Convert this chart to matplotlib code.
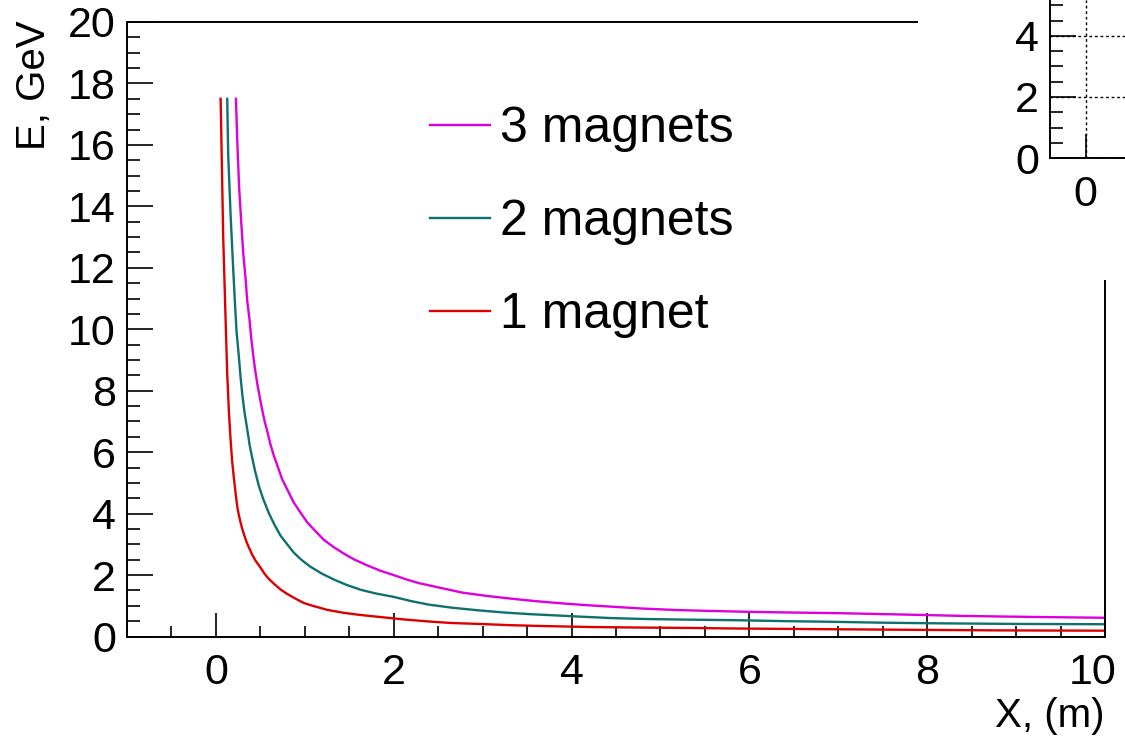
import matplotlib
matplotlib.use("Agg")
import matplotlib.pyplot as plt
from matplotlib.ticker import MultipleLocator, FixedFormatter, FixedLocator

plt.rcParams['font.family'] = ['Liberation Sans', 'DejaVu Sans']

# energy vs. position on the detector, one curve per magnet configuration
x_1mag = [0.053, 0.082, 0.109, 0.127, 0.146, 0.165, 0.183, 0.202, 0.221, 0.240,
          0.258, 0.28, 0.30, 0.325, 0.35, 0.38, 0.41, 0.45, 0.50, 0.55, 0.60,
          0.66, 0.727, 0.80, 0.89, 0.989, 1.1, 1.25, 1.44, 1.63, 1.83, 2.1,
          2.39, 2.65, 2.96, 3.3, 3.70, 4.2, 4.83, 5.3, 5.88, 6.8, 7.75, 8.8, 10.0]
e_1mag = [17.5, 13.0, 10.3, 8.57, 7.32, 6.40, 5.69, 5.16, 4.67, 4.23,
          3.95, 3.68, 3.47, 3.24, 3.04, 2.84, 2.65, 2.45, 2.25, 2.03, 1.86,
          1.70, 1.53, 1.39, 1.24, 1.09, 0.99, 0.87, 0.77, 0.70, 0.64, 0.56,
          0.49, 0.44, 0.41, 0.37, 0.34, 0.31, 0.29, 0.28, 0.26, 0.24, 0.22, 0.20, 0.19]

x_2mag = [0.127, 0.138, 0.165, 0.191, 0.213, 0.232, 0.258, 0.277, 0.296, 0.32,
          0.352, 0.38, 0.408, 0.44, 0.483, 0.53, 0.596, 0.66, 0.727, 0.80, 0.876,
          0.96, 1.064, 1.19, 1.33, 1.47, 1.63, 1.8, 2.0, 2.2, 2.39, 2.65, 2.96,
          3.25, 3.52, 3.8, 4.08, 4.45, 4.83, 5.3, 5.88, 6.4, 6.92, 7.5, 8.12, 9.0, 10.0]
e_2mag = [17.5, 15.68, 13.73, 12.16, 10.91, 9.93, 9.11, 8.45, 7.90, 7.33,
          6.75, 6.22, 5.82, 5.39, 4.90, 4.49, 4.01, 3.63, 3.28, 3.01, 2.73,
          2.50, 2.27, 2.05, 1.85, 1.68, 1.52, 1.40, 1.29, 1.15, 1.04, 0.94, 0.85,
          0.78, 0.73, 0.69, 0.65, 0.60, 0.57, 0.55, 0.53, 0.50, 0.48, 0.45, 0.43, 0.41, 0.40]

x_3mag = [0.225, 0.243, 0.262, 0.285, 0.307, 0.334, 0.352, 0.379, 0.397, 0.419,
          0.438, 0.464, 0.49, 0.52, 0.55, 0.576, 0.61, 0.652, 0.70, 0.745, 0.80,
          0.876, 0.95, 1.026, 1.11, 1.213, 1.32, 1.438, 1.56, 1.70, 1.85, 2.0,
          2.14, 2.28, 2.5, 2.77, 3.05, 3.33, 3.6, 3.89, 4.17, 4.46, 4.8, 5.2,
          5.6, 6.06, 6.5, 7.0, 7.5, 7.97, 8.4, 8.87, 9.4, 10.0]
e_3mag = [17.5, 15.9, 14.57, 13.48, 12.48, 11.64, 10.93, 10.29, 9.71, 9.17,
          8.74, 8.25, 7.84, 7.38, 6.98, 6.70, 6.29, 5.88, 5.49, 5.12, 4.80,
          4.36, 4.04, 3.72, 3.46, 3.15, 2.92, 2.70, 2.50, 2.32, 2.14, 2.0,
          1.86, 1.74, 1.60, 1.43, 1.32, 1.23, 1.15, 1.08, 1.02, 0.97, 0.91, 0.86,
          0.83, 0.80, 0.78, 0.76, 0.73, 0.70, 0.67, 0.65, 0.63, 0.61]

labels = ['3 magnets', '2 magnets', '1 magnet']
colors = ['#dd00dd', '#0f7070', '#dd0000']
xticks = [0, 2, 4, 6, 8, 10]

fig = plt.figure(figsize=(11.25, 7.38), dpi=100)
ax = fig.add_axes([0.1129, 0.1375, 0.8693, 0.8327])

l3, = ax.plot(x_3mag, e_3mag, color=colors[0], lw=1.7)
l2, = ax.plot(x_2mag, e_2mag, color=colors[1], lw=1.7)
l1, = ax.plot(x_1mag, e_1mag, color=colors[2], lw=1.7)

ax.set_xlim(-1, 10)
ax.set_ylim(0, 20)
ax.xaxis.set_major_locator(FixedLocator(xticks))
# the last label is drawn separately, nudged left so it stays on the canvas
ax.xaxis.set_major_formatter(FixedFormatter([str(t) for t in xticks[:-1]] + ['']))
ax.xaxis.set_minor_locator(MultipleLocator(0.5))
ax.yaxis.set_major_locator(MultipleLocator(2))
ax.yaxis.set_minor_locator(MultipleLocator(0.5))
ax.tick_params(which='both', direction='in', width=1.2, labelsize=31)
ax.tick_params(axis='x', which='major', length=17, pad=12)
ax.tick_params(axis='x', which='minor', length=8)
ax.tick_params(axis='y', which='major', length=19, pad=8)
ax.tick_params(axis='y', which='minor', length=9.5)
for s in ax.spines.values():
    s.set_linewidth(1.4)

ax.annotate(str(xticks[-1]), xy=(xticks[-1], 0), xycoords='data',
            xytext=(-9, -12), textcoords='offset points',
            ha='center', va='top', fontsize=31, annotation_clip=False)

ax.set_xlabel('X, (m)', fontsize=29, loc='right')
ax.xaxis.set_label_coords(1.0, -0.098)
ax.set_ylabel('E, GeV', fontsize=29, loc='top')
ax.yaxis.set_label_coords(-0.076, 1.003)

ax.legend([l3, l2, l1], labels, loc='upper left',
          bbox_to_anchor=(0.382, 0.856), bbox_transform=fig.transFigure,
          frameon=False, fontsize=36, handlelength=1.2, handletextpad=0.2,
          labelspacing=0.94, borderpad=0, borderaxespad=0)

# second pad in the corner, overlapping the main frame
cover = fig.add_axes([0.816, 0.6206, 0.184, 0.3794])
cover.set_facecolor('white')
cover.set_xticks([])
cover.set_yticks([])
for s in cover.spines.values():
    s.set_visible(False)

inset = fig.add_axes([0.9333, 0.7859, 0.0667, 0.2141])
inset.set_xlim(-0.40, 0.44)
inset.set_ylim(0, 5.18)
inset.xaxis.set_major_locator(MultipleLocator(2))
inset.yaxis.set_major_locator(MultipleLocator(2))
inset.yaxis.set_minor_locator(MultipleLocator(0.5))
inset.tick_params(which='both', direction='in', width=1.2, labelsize=31)
inset.tick_params(axis='x', which='major', length=17, pad=12)
inset.tick_params(axis='y', which='major', length=19, pad=8)
inset.tick_params(axis='y', which='minor', length=9.5)
inset.grid(True, which='major', color='black', linestyle=(0, (2, 2)), linewidth=1.0)
inset.spines['top'].set_visible(False)
inset.spines['right'].set_visible(False)
for s in ['left', 'bottom']:
    inset.spines[s].set_linewidth(1.4)

fig.savefig('out.png', dpi=100)
